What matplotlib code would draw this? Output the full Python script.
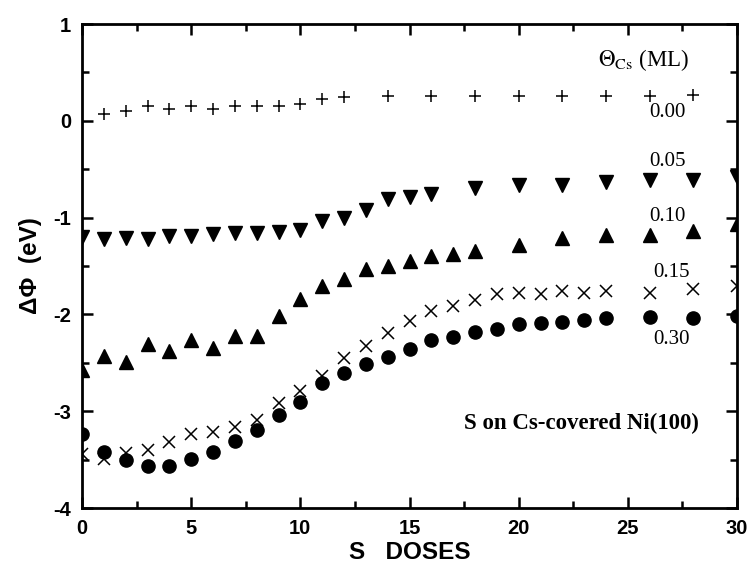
import matplotlib
matplotlib.use("Agg")
import matplotlib.pyplot as plt
from matplotlib.ticker import MultipleLocator

plt.rcParams['mathtext.fontset'] = 'stix'
plt.rcParams['axes.unicode_minus'] = False

# ---- data ----
dose_000 = [1, 2, 3, 4, 5, 6, 7, 8, 9, 10, 11, 12, 14, 16, 18, 20, 22, 24, 26, 28]
phi_000 = [0.07, 0.10, 0.15, 0.12, 0.15, 0.12, 0.155, 0.155, 0.15, 0.175, 0.23, 0.25,
           0.26, 0.26, 0.26, 0.26, 0.26, 0.26, 0.26, 0.27]

dose_005 = [0, 1, 2, 3, 4, 5, 6, 7, 8, 9, 10, 11, 12, 13, 14, 15, 16, 18, 20, 22, 24, 26, 28, 30]
phi_005 = [-1.20, -1.22, -1.21, -1.22, -1.19, -1.19, -1.17, -1.16, -1.16, -1.15, -1.13,
           -1.04, -1.00, -0.92, -0.81, -0.79, -0.76, -0.69, -0.66, -0.66, -0.63, -0.61,
           -0.61, -0.58]

dose_010 = [0, 1, 2, 3, 4, 5, 6, 7, 8, 9, 10, 11, 12, 13, 14, 15, 16, 17, 18, 20, 22, 24, 26, 28, 30]
phi_010 = [-2.57, -2.43, -2.49, -2.31, -2.38, -2.26, -2.35, -2.22, -2.22, -2.02, -1.84,
           -1.71, -1.63, -1.53, -1.50, -1.45, -1.40, -1.38, -1.34, -1.28, -1.21, -1.18,
           -1.18, -1.14, -1.07]

dose_015 = [0, 1, 2, 3, 4, 5, 6, 7, 8, 9, 10, 11, 12, 13, 14, 15, 16, 17, 18, 19, 20,
            21, 22, 23, 24, 26, 28, 30]
phi_015 = [-3.44, -3.49, -3.43, -3.40, -3.32, -3.24, -3.21, -3.16, -3.09, -2.92, -2.79,
           -2.64, -2.45, -2.33, -2.19, -2.07, -1.97, -1.91, -1.85, -1.79, -1.78, -1.79,
           -1.76, -1.78, -1.76, -1.78, -1.74, -1.71]

dose_030 = [0, 1, 2, 3, 4, 5, 6, 7, 8, 9, 10, 11, 12, 13, 14, 15, 16, 17, 18, 19, 20,
            21, 22, 23, 24, 26, 28, 30]
phi_030 = [-3.24, -3.42, -3.50, -3.57, -3.57, -3.49, -3.42, -3.31, -3.19, -3.04, -2.91,
           -2.71, -2.61, -2.51, -2.44, -2.36, -2.26, -2.23, -2.18, -2.15, -2.10, -2.09,
           -2.08, -2.06, -2.04, -2.03, -2.04, -2.02]

coverage_labels = ["0.00", "0.05", "0.10", "0.15", "0.30"]

# ---- figure ----
fig = plt.figure(figsize=(7.52, 5.69), dpi=100)
ax = fig.add_axes([82/752, 1 - 508/569, (737 - 82)/752, (508 - 24)/569])

k = dict(linestyle='none', color='black', clip_on=True)
ax.plot(dose_000, phi_000, marker='+', markersize=9, markeredgewidth=1.1, **k)
ax.plot(dose_005, phi_005, marker='v', markersize=9.5, **k)
ax.plot(dose_010, phi_010, marker='^', markersize=9.5, **k)
ax.plot(dose_015, phi_015, marker='x', markersize=8, markeredgewidth=1.1, **k)
ax.plot(dose_030, phi_030, marker='o', markersize=9.5, **k)

ax.set_xlim(0, 30)
ax.set_ylim(-4, 1)
ax.xaxis.set_major_locator(MultipleLocator(5))
ax.xaxis.set_minor_locator(MultipleLocator(2.5))
ax.yaxis.set_major_locator(MultipleLocator(1))
ax.yaxis.set_minor_locator(MultipleLocator(0.5))
ax.tick_params(which='both', direction='in', top=True, right=True, width=1.8)
ax.tick_params(which='major', length=8, pad=8)
ax.tick_params(which='minor', length=5)
for s in ax.spines.values():
    s.set_linewidth(2.0)

for lab in ax.get_xticklabels() + ax.get_yticklabels():
    lab.set_fontfamily('Liberation Sans')
    lab.set_fontweight('bold')
    lab.set_fontsize(14.5)

ax.set_xlabel("S   DOSES", fontfamily='Liberation Sans', fontweight='bold', fontsize=17.5,
              labelpad=2)
ax.set_ylabel("ΔΦ  (eV)", fontfamily='Liberation Sans', fontweight='bold', fontsize=17.5,
              labelpad=8)

serif = dict(fontfamily='Liberation Serif', fontsize=15, ha='center', va='center')
ax.text(25.7, 0.63, r"$\Theta_{\mathrm{Cs}}$ (ML)", fontfamily='Liberation Serif',
        fontsize=16.5, ha='center', va='center')
label_pos = [(26.8, 0.09), (26.8, -0.42), (26.8, -0.99), (27.0, -1.57), (27.0, -2.26)]
for lab, (x, y) in zip(coverage_labels, label_pos):
    ax.text(x, y, lab, **serif)
ax.text(22.86, -3.13, "S on Cs-covered Ni(100)", fontfamily='Liberation Serif',
        fontweight='bold', fontsize=16.5, ha='center', va='center')

fig.savefig("out.png", dpi=100)
